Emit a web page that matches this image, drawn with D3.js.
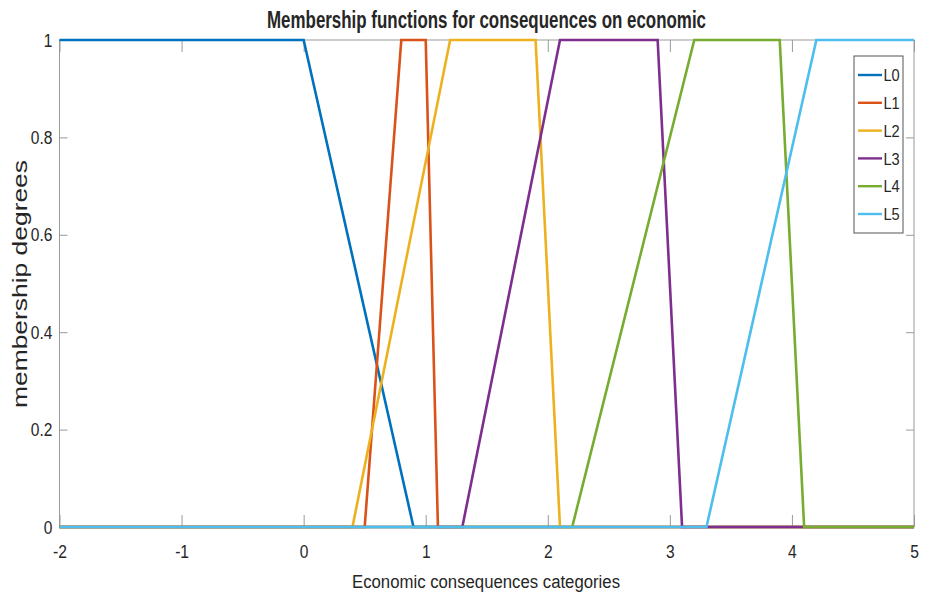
<!DOCTYPE html>
<html>
<head>
<meta charset="utf-8">
<script src="https://cdn.jsdelivr.net/npm/d3@7"></script>
<style>
  body { margin: 0; background: #fff; }
  svg { display: block; }
  text { font-family: "Liberation Sans", Arial, Helvetica, sans-serif; fill: #262626; }
</style>
</head>
<body>
<svg id="chart" width="928" height="596"></svg>
<script>
// Trapezoidal membership functions: breakpoints (x) and degrees (y)
const seriesNames = ["L0", "L1", "L2", "L3", "L4", "L5"];
const L0x = [-2, 0, 0.9, 5],            L0y = [1, 1, 0, 0];
const L1x = [-2, 0.5, 0.8, 1, 1.1, 5],  L1y = [0, 0, 1, 1, 0, 0];
const L2x = [-2, 0.4, 1.2, 1.9, 2.1, 5], L2y = [0, 0, 1, 1, 0, 0];
const L3x = [-2, 1.3, 2.1, 2.9, 3.1, 5], L3y = [0, 0, 1, 1, 0, 0];
const L4x = [-2, 2.2, 3.2, 3.9, 4.1, 5], L4y = [0, 0, 1, 1, 0, 0];
const L5x = [-2, 3.3, 4.2, 5],          L5y = [0, 0, 1, 1];

const xTicks = [-2, -1, 0, 1, 2, 3, 4, 5];
const xTickLabels = ["-2", "-1", "0", "1", "2", "3", "4", "5"];
const yTicks = [0, 0.2, 0.4, 0.6, 0.8, 1];
const yTickLabels = ["0", "0.2", "0.4", "0.6", "0.8", "1"];

const titleText = "Membership functions for consequences on economic";
const xLabelText = "Economic consequences categories";
const yLabelText = "membership degrees";

const colors = ["#0072BD", "#D95319", "#EDB120", "#7E2F8E", "#77AC30", "#4DBEEE"];

const seriesX = [L0x, L1x, L2x, L3x, L4x, L5x];
const seriesY = [L0y, L1y, L2y, L3y, L4y, L5y];
const series = seriesNames.map((name, i) => ({
  name,
  color: colors[i],
  points: seriesX[i].map((x, j) => ({ x, y: seriesY[i][j] }))
}));

// Plot area edges
const plotLeft = 59.5, plotRight = 914, plotTop = 40, plotBottom = 527;
const svg = d3.select("#chart");

const x = d3.scaleLinear().domain([-2, 5]).range([plotLeft, plotRight]);
const y = d3.scaleLinear().domain([0, 1]).range([plotBottom, plotTop]);

const axisColor = "#9a9a9a";
const tickFont = 19, tickSquash = 0.82;

// Axes box
svg.append("rect")
  .attr("x", plotLeft).attr("y", plotTop)
  .attr("width", plotRight - plotLeft).attr("height", plotBottom - plotTop)
  .attr("fill", "none").attr("stroke", axisColor).attr("stroke-width", 1);

function styleAxis(g) {
  g.select(".domain").remove();
  g.selectAll(".tick line").attr("stroke", axisColor).attr("stroke-width", 1);
}

// Bottom axis with inward ticks
svg.append("g")
  .attr("transform", `translate(0,${plotBottom})`)
  .call(d3.axisBottom(x).tickValues(xTicks).tickFormat((d, i) => xTickLabels[i])
        .tickSizeInner(-12).tickSizeOuter(0).tickPadding(18))
  .call(styleAxis)
  .call(g => g.selectAll(".tick text")
    .attr("font-size", tickFont).attr("fill", "#262626")
    .attr("transform", `scale(${tickSquash},1)`));

// Top axis (ticks only)
svg.append("g")
  .attr("transform", `translate(0,${plotTop})`)
  .call(d3.axisTop(x).tickValues(xTicks).tickFormat("")
        .tickSizeInner(-12).tickSizeOuter(0))
  .call(styleAxis);

// Left axis with inward ticks
svg.append("g")
  .attr("transform", `translate(${plotLeft},0)`)
  .call(d3.axisLeft(y).tickValues(yTicks).tickFormat((d, i) => yTickLabels[i])
        .tickSizeInner(-8).tickSizeOuter(0).tickPadding(7))
  .call(styleAxis)
  .call(g => g.selectAll(".tick text")
    .attr("font-size", tickFont).attr("fill", "#262626")
    .attr("x", -7 / tickSquash)
    .attr("transform", `scale(${tickSquash},1)`));

// Right axis (ticks only)
svg.append("g")
  .attr("transform", `translate(${plotRight},0)`)
  .call(d3.axisRight(y).tickValues(yTicks).tickFormat("")
        .tickSizeInner(-8).tickSizeOuter(0))
  .call(styleAxis);

// Membership function lines
const line = d3.line().x(d => x(d.x)).y(d => y(d.y));
svg.append("g")
  .selectAll("path")
  .data(series)
  .join("path")
  .attr("d", d => line(d.points))
  .attr("fill", "none")
  .attr("stroke", d => d.color)
  .attr("stroke-width", 2.6)
  .attr("stroke-linejoin", "miter");

// Title
svg.append("text")
  .attr("x", 486.5).attr("y", 28)
  .attr("text-anchor", "middle")
  .attr("font-size", 23.5).attr("font-weight", "bold")
  .attr("fill", "#111")
  .attr("textLength", 439).attr("lengthAdjust", "spacingAndGlyphs")
  .text(titleText);

// X axis label
svg.append("text")
  .attr("x", 486).attr("y", 588)
  .attr("text-anchor", "middle")
  .attr("font-size", 18)
  .attr("textLength", 268).attr("lengthAdjust", "spacingAndGlyphs")
  .text(xLabelText);

// Y axis label
svg.append("text")
  .attr("transform", "translate(27,284) rotate(-90) scale(1,0.8)")
  .attr("text-anchor", "middle")
  .attr("font-size", 26)
  .attr("textLength", 248).attr("lengthAdjust", "spacingAndGlyphs")
  .text(yLabelText);

// Legend
const legend = svg.append("g");
const lgX = 854, lgY = 56, lgW = 49, lgH = 177, rowH = 27.8;
const lgSquash = 0.86;
legend.append("rect")
  .attr("x", lgX).attr("y", lgY).attr("width", lgW).attr("height", lgH)
  .attr("fill", "#fff").attr("stroke", "#555").attr("stroke-width", 1);
const rows = legend.selectAll("g.row")
  .data(series)
  .join("g")
  .attr("class", "row")
  .attr("transform", (d, i) => `translate(0,${lgY + 19 + i * rowH})`);
rows.append("line")
  .attr("x1", lgX + 4).attr("x2", lgX + 28)
  .attr("y1", 0).attr("y2", 0)
  .attr("stroke", d => d.color).attr("stroke-width", 2.4);
rows.append("text")
  .attr("x", (lgX + 29.5) / lgSquash).attr("y", 0).attr("dy", "0.36em")
  .attr("transform", `scale(${lgSquash},1)`)
  .attr("font-size", 17)
  .text(d => d.name);
</script>
</body>
</html>
